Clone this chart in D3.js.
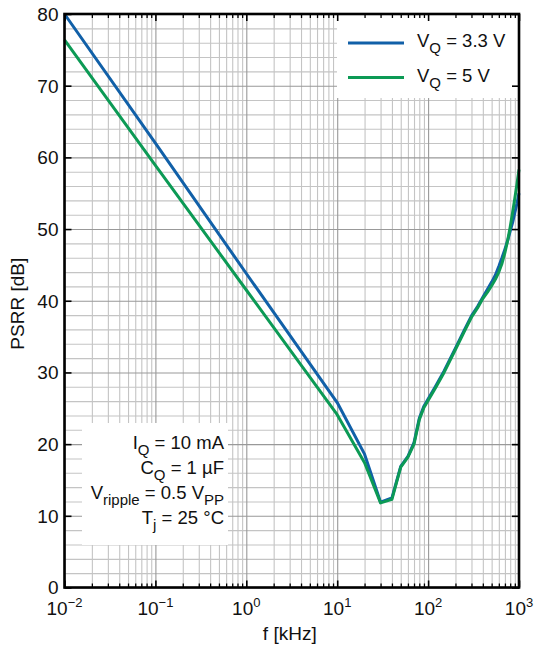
<!DOCTYPE html>
<html lang="en">
<head>
<meta charset="UTF-8">
<title>PSRR vs frequency</title>
<style>
  body { margin: 0; background: #fff; }
  svg text { font-family: "Liberation Sans", Arial, sans-serif; fill: #111; }
</style>
</head>
<body>
<script src="https://d3js.org/d3.v7.min.js"></script>
<script>
// values (f in kHz, PSRR in dB)
var freq   = [0.01, 0.1, 1, 10, 20, 30, 40, 50, 60, 70, 80, 90, 100, 120, 150, 200, 250, 300, 350, 400, 450, 500, 550, 600, 650, 700, 750, 800, 850, 900, 950, 1000];
var psrr33 = [80, 62.0, 43.8, 25.8, 18.6, 11.9, 12.5, 16.9, 18.3, 20.2, 23.6, 25.3, 26.3, 28.0, 30.2, 33.4, 35.9, 37.9, 39.2, 40.5, 41.6, 42.6, 43.6, 44.8, 46.0, 47.2, 48.4, 49.7, 50.9, 52.3, 53.6, 55.0];
var psrr5  = [76.4, 58.9, 41.5, 24.1, 17.4, 11.8, 12.3, 16.8, 18.2, 20.0, 23.4, 25.1, 26.1, 27.8, 30.0, 33.2, 35.7, 37.7, 39.0, 40.3, 41.2, 42.1, 43.0, 44.0, 45.2, 46.7, 48.4, 50.3, 52.3, 54.3, 56.3, 58.3];

var decadeTicks = [0.01, 0.1, 1, 10, 100, 1000];
var decadeExp   = ["\u22122", "\u22121", "0", "1", "2", "3"];
var minorFreqs  = [0.02, 0.03, 0.04, 0.05, 0.06, 0.07, 0.08, 0.09,
                   0.2, 0.3, 0.4, 0.5, 0.6, 0.7, 0.8, 0.9,
                   2, 3, 4, 5, 6, 7, 8, 9,
                   20, 30, 40, 50, 60, 70, 80, 90,
                   200, 300, 400, 500, 600, 700, 800, 900];
var dbTicks = [0, 10, 20, 30, 40, 50, 60, 70, 80];
var dbMinor = [2, 4, 6, 8, 12, 14, 16, 18, 22, 24, 26, 28, 32, 34, 36, 38,
               42, 44, 46, 48, 52, 54, 56, 58, 62, 64, 66, 68, 72, 74, 76, 78];
var seriesNames = ["3.3 V", "5 V"];
var colors = ["#1160a8", "#0c9a55"];

const W = 537, H = 645;
const pL = 64.5, pR = 519, pT = 14, pB = 587.5;
const FS = 18.5, SUB = 15;   // main / subscript font sizes

const svg = d3.select("body").append("svg")
    .attr("width", W)
    .attr("height", H);

const x = d3.scaleLog().domain([0.01, 1000]).range([pL, pR]);
const y = d3.scaleLinear().domain([0, 80]).range([pB, pT]);

// grid
function grid(g, axis, color) {
    g.call(axis).call(s => s.select(".domain").remove());
    g.selectAll("line").attr("stroke", color).attr("stroke-width", 1.1);
}
svg.append("g").attr("transform", "translate(0," + pB + ")")
    .call(grid, d3.axisBottom(x).tickValues(minorFreqs).tickSize(-(pB - pT)).tickFormat(""), "#c4c4c4");
svg.append("g").attr("transform", "translate(" + pL + ",0)")
    .call(grid, d3.axisLeft(y).tickValues(dbMinor).tickSize(-(pR - pL)).tickFormat(""), "#c4c4c4");
svg.append("g").attr("transform", "translate(0," + pB + ")")
    .call(grid, d3.axisBottom(x).tickValues(decadeTicks).tickSize(-(pB - pT)).tickFormat(""), "#999");
svg.append("g").attr("transform", "translate(" + pL + ",0)")
    .call(grid, d3.axisLeft(y).tickValues(dbTicks).tickSize(-(pR - pL)).tickFormat(""), "#999");

// white backgrounds behind legend and notes
svg.append("rect").attr("x", 337).attr("y", pT).attr("width", pR - 337).attr("height", 84).attr("fill", "#fff");
svg.append("rect").attr("x", 82).attr("y", 423).attr("width", 146).attr("height", 122).attr("fill", "#fff");

// curves
const line = d3.line()
    .x(d => x(d[0]))
    .y(d => y(d[1]));
[psrr33, psrr5].forEach(function(vals, i) {
    svg.append("path")
        .datum(freq.map((f, j) => [f, vals[j]]))
        .attr("fill", "none")
        .attr("stroke", colors[i])
        .attr("stroke-width", 3)
        .attr("stroke-linejoin", "round")
        .attr("d", line);
});

// inward ticks on all four sides
function ticks(g, axis, w) {
    g.call(axis).call(s => s.select(".domain").remove());
    g.selectAll("line").attr("stroke", "#000").attr("stroke-width", w);
}
svg.append("g").attr("transform", "translate(0," + pB + ")")
    .call(ticks, d3.axisBottom(x).tickValues(minorFreqs).tickSize(-4).tickFormat(""), 1.3);
svg.append("g").attr("transform", "translate(0," + pB + ")")
    .call(ticks, d3.axisBottom(x).tickValues(decadeTicks).tickSize(-7).tickFormat(""), 1.6);
svg.append("g").attr("transform", "translate(0," + pT + ")")
    .call(ticks, d3.axisTop(x).tickValues(minorFreqs).tickSize(-4).tickFormat(""), 1.3);
svg.append("g").attr("transform", "translate(0," + pT + ")")
    .call(ticks, d3.axisTop(x).tickValues(decadeTicks).tickSize(-7).tickFormat(""), 1.6);
svg.append("g").attr("transform", "translate(" + pL + ",0)")
    .call(ticks, d3.axisLeft(y).tickValues(dbTicks).tickSize(-7).tickFormat(""), 1.6);
svg.append("g").attr("transform", "translate(" + pR + ",0)")
    .call(ticks, d3.axisRight(y).tickValues(dbTicks).tickSize(-7).tickFormat(""), 1.6);

// frame
svg.append("rect")
    .attr("x", pL).attr("y", pT)
    .attr("width", pR - pL).attr("height", pB - pT)
    .attr("fill", "none").attr("stroke", "#000").attr("stroke-width", 2.6);

// y tick labels
svg.selectAll(".ylab").data(dbTicks).enter().append("text")
    .attr("class", "ylab")
    .attr("x", pL - 6)
    .attr("y", d => y(d))
    .attr("dy", "0.36em")
    .attr("text-anchor", "end")
    .attr("font-size", 19)
    .text(d => d);

// x tick labels 10^n
const xl = svg.selectAll(".xlab").data(decadeTicks).enter().append("text")
    .attr("class", "xlab")
    .attr("x", d => x(d))
    .attr("y", 615)
    .attr("text-anchor", "middle")
    .attr("font-size", 19);
xl.append("tspan").text("10");
xl.append("tspan").attr("dy", -8).attr("font-size", 13).text((d, i) => decadeExp[i]);

// axis titles
svg.append("text")
    .attr("x", (pL + pR) / 2 - 2)
    .attr("y", 640)
    .attr("text-anchor", "middle")
    .attr("font-size", 19)
    .text("f [kHz]");
svg.append("text")
    .attr("transform", "translate(24," + ((pT + pB) / 2 + 3) + ") rotate(-90)")
    .attr("text-anchor", "middle")
    .attr("font-size", 19)
    .text("PSRR [dB]");

// legend
seriesNames.forEach(function(name, i) {
    const ly = 43 + i * 34.5;
    svg.append("line")
        .attr("x1", 348).attr("x2", 404)
        .attr("y1", ly).attr("y2", ly)
        .attr("stroke", colors[i]).attr("stroke-width", 3);
    const t = svg.append("text")
        .attr("x", 417).attr("y", ly + 4)
        .attr("font-size", FS);
    t.append("tspan").text("V");
    t.append("tspan").attr("dy", 6).attr("font-size", SUB).text("Q");
    t.append("tspan").attr("dy", -6).text(" = " + name);
});

// operating conditions
const notes = [
    [["I", 0], ["Q", 1], [" = 10 mA", 0]],
    [["C", 0], ["Q", 1], [" = 1 \u00b5F", 0]],
    [["V", 0], ["ripple", 1], [" = 0.5 V", 0], ["PP", 1]],
    [["T", 0], ["j", 1], [" = 25 \u00b0C", 0]]
];
notes.forEach(function(parts, i) {
    const t = svg.append("text")
        .attr("x", 224).attr("y", 449 + i * 25)
        .attr("text-anchor", "end")
        .attr("font-size", FS);
    let sub = 0;
    parts.forEach(function(p) {
        const dy = p[1] === sub ? 0 : (p[1] ? 6 : -6);
        sub = p[1];
        t.append("tspan").attr("dy", dy).attr("font-size", p[1] ? SUB : FS).text(p[0]);
    });
});
</script>
</body>
</html>
